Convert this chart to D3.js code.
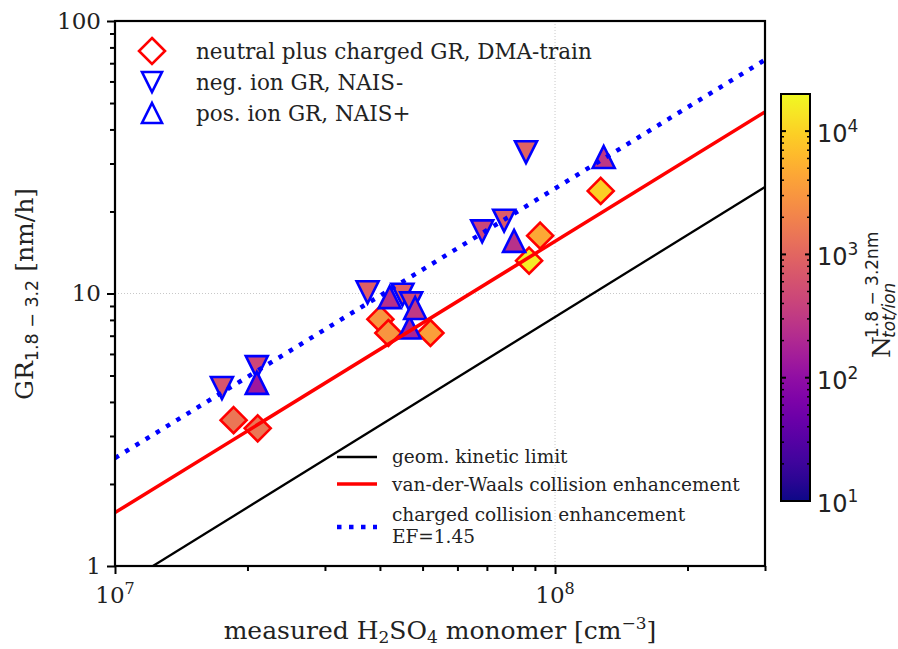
<!DOCTYPE html>
<html lang="en">
<head>
<meta charset="utf-8">
<title>GR vs H2SO4</title>
<script src="https://d3js.org/d3.v7.min.js"></script>
<style>
body { margin: 0; background: white; }
text { font-family: "DejaVu Serif", serif; fill: #222; }
.sans { font-family: "DejaVu Sans", sans-serif; }
</style>
</head>
<body>
<div id="main"></div>
<script>
// neutral plus charged GR, DMA-train
var dmaConc = [1.86e7, 2.11e7, 4.01e7, 4.18e7, 5.21e7, 8.73e7, 9.25e7, 1.27e8];
var dmaGR   = [3.43, 3.2, 8.05, 7.16, 7.16, 13.2, 16.3, 23.8];
var dmaN    = [1500, 1500, 3000, 3000, 3700, 16000, 4400, 9300];
// neg. ion GR, NAIS-
var negConc = [1.75e7, 2.10e7, 3.75e7, 4.50e7, 4.71e7, 6.83e7, 7.66e7, 8.59e7];
var negGR   = [4.5, 5.37, 10.1, 9.9, 9.2, 16.9, 18.5, 33];
var negN    = [650, 450, 820, 820, 520, 450, 760, 900];
// pos. ion GR, NAIS+
var posConc = [2.10e7, 4.21e7, 4.67e7, 4.81e7, 8.07e7, 1.29e8];
var posGR   = [4.7, 9.7, 7.5, 8.85, 15.6, 31.7];
var posN    = [130, 240, 180, 300, 250, 300];

// model lines (end points)
var lineConc  = [1e7, 3e8];
var geomGR    = [0.82, 24.6];
var vdwGR     = [1.57, 46.4];
var chargedGR = [2.49, 72];

var xMajor = [1e7, 1e8];
var yMajor = [1, 10, 100];
var cbMajor = [10, 100, 1000, 10000];

var width = 898, height = 649;
var pL = 115, pR = 765, pT = 21, pB = 566;

var svg = d3.select("div#main").append("svg")
    .attr("width", width)
    .attr("height", height);

var x = d3.scaleLog().domain([1e7, 3e8]).range([pL, pR]);
var y = d3.scaleLog().domain([1, 100]).range([pB, pT]);
var color = d3.scaleSequentialLog(d3.interpolatePlasma).domain([10, 2e4]);

svg.append("clipPath").attr("id", "plotclip")
    .append("rect").attr("x", pL).attr("y", pT)
    .attr("width", pR - pL).attr("height", pB - pT);

// grid at major ticks
svg.append("line").attr("x1", x(1e8)).attr("x2", x(1e8)).attr("y1", pT).attr("y2", pB)
    .attr("stroke", "#c8c8c8").attr("stroke-width", 1).attr("stroke-dasharray", "1,2");
svg.append("line").attr("x1", pL).attr("x2", pR).attr("y1", y(10)).attr("y2", y(10))
    .attr("stroke", "#c8c8c8").attr("stroke-width", 1).attr("stroke-dasharray", "1,2");

// markers
var pts = svg.append("g").attr("clip-path", "url(#plotclip)");

function diamond(s) { return "M0," + (-s) + "L" + s + ",0L0," + s + "L" + (-s) + ",0Z"; }
function triDown(s) { return "M" + (-s) + "," + (-s) + "L" + s + "," + (-s) + "L0," + s + "Z"; }
function triUp(s) { return "M0," + (-s) + "L" + s + "," + s + "L" + (-s) + "," + s + "Z"; }

function drawSet(conc, gr, n, shape, edge) {
    pts.append("g").selectAll("path")
        .data(d3.range(conc.length))
        .enter()
        .append("path")
        .attr("d", shape)
        .attr("transform", function(i){ return "translate(" + x(conc[i]) + "," + y(gr[i]) + ")"; })
        .attr("fill", function(i){ return color(n[i]); })
        .attr("stroke", edge)
        .attr("stroke-width", 2.6)
        .attr("stroke-linejoin", "miter");
}
drawSet(dmaConc, dmaGR, dmaN, diamond(13), "#ff0000");
drawSet(negConc, negGR, negN, triDown(11), "#0000ff");
drawSet(posConc, posGR, posN, triUp(11), "#0000ff");

// lines
var lineGen = d3.line()
    .x(function(d){ return x(d[0]); })
    .y(function(d){ return y(d[1]); });
var lines = svg.append("g").attr("clip-path", "url(#plotclip)");
lines.append("path").attr("d", lineGen(d3.zip(lineConc, geomGR)))
    .attr("fill", "none").attr("stroke", "black").attr("stroke-width", 2.3);
lines.append("path").attr("d", lineGen(d3.zip(lineConc, vdwGR)))
    .attr("fill", "none").attr("stroke", "#ff0000").attr("stroke-width", 3.5);
lines.append("path").attr("d", lineGen(d3.zip(lineConc, chargedGR)))
    .attr("fill", "none").attr("stroke", "#0000ff").attr("stroke-width", 4.5)
    .attr("stroke-dasharray", "4.5,7.5");

// axes
var xMinor = [];
[1e7, 1e8].forEach(function(b){ for (var k = 2; k <= 9; k++) if (b * k <= 3e8) xMinor.push(b * k); });
var yMinor = [];
[1, 10].forEach(function(b){ for (var k = 2; k <= 9; k++) yMinor.push(b * k); });

var gx = svg.append("g").attr("transform", "translate(0," + pB + ")");
gx.call(d3.axisBottom(x).tickValues(xMajor).tickSize(8).tickFormat(""));
gx.append("g").call(d3.axisBottom(x).tickValues(xMinor).tickSize(5).tickFormat(""));
gx.selectAll(".domain").remove();
gx.selectAll("line").attr("stroke", "black").attr("stroke-width", 2);

xMajor.forEach(function(v){
    var t = svg.append("text")
        .attr("x", x(v)).attr("y", pB + 37)
        .attr("text-anchor", "middle")
        .style("font-size", "23px");
    t.append("tspan").text("10");
    t.append("tspan").attr("dy", -9).style("font-size", "16px").text(Math.round(Math.log10(v)));
});

var gy = svg.append("g").attr("transform", "translate(" + pL + ",0)");
gy.call(d3.axisLeft(y).tickValues(yMajor).tickSize(8).tickPadding(6).tickFormat(d3.format("d")));
gy.append("g").call(d3.axisLeft(y).tickValues(yMinor).tickSize(5).tickFormat(""));
gy.selectAll(".domain").remove();
gy.selectAll("line").attr("stroke", "black").attr("stroke-width", 2);
gy.selectAll("text")
    .style("font-size", "23px").style("font-family", "DejaVu Serif").attr("fill", "#222");

// frame
svg.append("rect").attr("x", pL).attr("y", pT)
    .attr("width", pR - pL).attr("height", pB - pT)
    .attr("fill", "none").attr("stroke", "black").attr("stroke-width", 2.2);

// axis labels
var xl = svg.append("text").attr("x", 440).attr("y", 639)
    .attr("text-anchor", "middle").style("font-size", "25px");
xl.append("tspan").text("measured H");
xl.append("tspan").attr("dy", 4).style("font-size", "17px").text("2");
xl.append("tspan").attr("dy", -4).text("SO");
xl.append("tspan").attr("dy", 4).style("font-size", "17px").text("4");
xl.append("tspan").attr("dy", -4).text(" monomer [cm");
xl.append("tspan").attr("dy", -10).style("font-size", "17px").text("\u22123");
xl.append("tspan").attr("dy", 10).text("]");

var yl = svg.append("text")
    .attr("transform", "translate(33,294) rotate(-90)")
    .attr("text-anchor", "middle").style("font-size", "25px");
yl.append("tspan").text("GR");
yl.append("tspan").attr("dy", 5).attr("class", "sans").style("font-size", "17.5px").text("1.8 \u2212 3.2");
yl.append("tspan").attr("dy", -5).text(" [nm/h]");

// legend: markers
var legTop = [
    { label: "neutral plus charged GR, DMA-train", shape: diamond(13), edge: "#ff0000", y: 51 },
    { label: "neg. ion GR, NAIS-", shape: triDown(10), edge: "#0000ff", y: 82 },
    { label: "pos. ion GR, NAIS+", shape: triUp(10), edge: "#0000ff", y: 113 }
];
legTop.forEach(function(d){
    svg.append("path").attr("d", d.shape)
        .attr("transform", "translate(152," + d.y + ")")
        .attr("fill", "none").attr("stroke", d.edge).attr("stroke-width", 2.6);
    svg.append("text").attr("x", 196).attr("y", d.y).attr("dy", "0.35em")
        .style("font-size", "21.5px").text(d.label);
});

// legend: lines
svg.append("line").attr("x1", 337).attr("x2", 377).attr("y1", 457).attr("y2", 457)
    .attr("stroke", "black").attr("stroke-width", 2.3);
svg.append("text").attr("x", 392).attr("y", 457).attr("dy", "0.35em")
    .style("font-size", "18.5px").text("geom. kinetic limit");
svg.append("line").attr("x1", 337).attr("x2", 377).attr("y1", 484).attr("y2", 484)
    .attr("stroke", "#ff0000").attr("stroke-width", 3.5);
svg.append("text").attr("x", 392).attr("y", 485).attr("dy", "0.35em")
    .style("font-size", "18.5px").text("van-der-Waals collision enhancement");
svg.append("line").attr("x1", 337).attr("x2", 377).attr("y1", 527).attr("y2", 527)
    .attr("stroke", "#0000ff").attr("stroke-width", 4.5).attr("stroke-dasharray", "4.5,7.5");
svg.append("text").attr("x", 392).attr("y", 515).attr("dy", "0.35em")
    .style("font-size", "18.5px").text("charged collision enhancement");
svg.append("text").attr("x", 392).attr("y", 537).attr("dy", "0.35em")
    .style("font-size", "18.5px").text("EF=1.45");

// colorbar
var cbX = 781, cbW = 29, cbTop = 94, cbBottom = 501;
var cb = d3.scaleLog().domain([10, 2e4]).range([cbBottom, cbTop]);
var grad = svg.append("defs").append("linearGradient").attr("id", "cbgrad")
    .attr("x1", 0).attr("x2", 0).attr("y1", 1).attr("y2", 0);
d3.range(0, 1.0001, 0.05).forEach(function(t){
    grad.append("stop").attr("offset", t).attr("stop-color", d3.interpolatePlasma(t));
});
svg.append("rect").attr("x", cbX).attr("y", cbTop).attr("width", cbW).attr("height", cbBottom - cbTop)
    .attr("fill", "url(#cbgrad)");

var cbMinor = [];
[10, 100, 1000, 10000].forEach(function(b){ for (var k = 2; k <= 9; k++) if (b * k <= 2e4) cbMinor.push(b * k); });
cbMinor.forEach(function(v){
    [cbX, cbX + cbW].forEach(function(ex, j){
        svg.append("line").attr("x1", ex).attr("x2", j ? ex - 3 : ex + 3)
            .attr("y1", cb(v)).attr("y2", cb(v)).attr("stroke", "black").attr("stroke-width", 1.5);
    });
});
cbMajor.forEach(function(v){
    [cbX, cbX + cbW].forEach(function(ex, j){
        svg.append("line").attr("x1", ex).attr("x2", j ? ex - 5 : ex + 5)
            .attr("y1", cb(v)).attr("y2", cb(v)).attr("stroke", "black").attr("stroke-width", 2);
    });
    var t = svg.append("text").attr("class", "sans")
        .attr("x", cbX + cbW + 7).attr("y", cb(v)).attr("dy", "0.45em")
        .style("font-size", "24px");
    t.append("tspan").text("10");
    t.append("tspan").attr("dy", -10).style("font-size", "17px").text(Math.round(Math.log10(v)));
});
svg.append("rect").attr("x", cbX).attr("y", cbTop).attr("width", cbW).attr("height", cbBottom - cbTop)
    .attr("fill", "none").attr("stroke", "black").attr("stroke-width", 2);

// colorbar label
var cl = svg.append("g").attr("transform", "translate(890,292) rotate(-90)");
cl.append("text").attr("x", -66).attr("y", 0).style("font-size", "25px").text("N");
cl.append("text").attr("class", "sans").attr("x", -46).attr("y", -12)
    .style("font-size", "17px").text("1.8 \u2212 3.2nm");
cl.append("text").attr("class", "sans").attr("x", -46).attr("y", 5)
    .style("font-size", "17px").style("font-style", "italic").text("tot/ion");
</script>
</body>
</html>
